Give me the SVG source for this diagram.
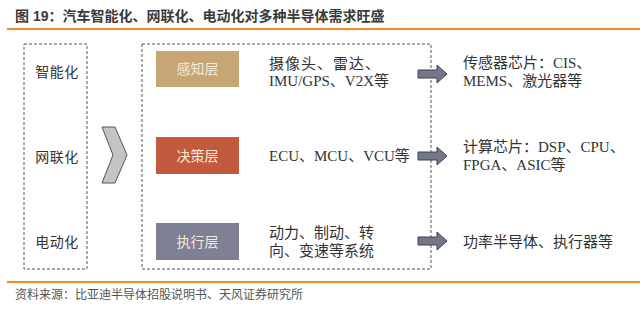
<svg xmlns="http://www.w3.org/2000/svg" width="640" height="312" viewBox="0 0 640 312">
<defs>
<style>
.title{font-family:"Liberation Sans","Noto Sans CJK SC",sans-serif;font-size:14px;font-weight:bold;fill:#3a3a3a}
.foot{font-family:"Liberation Sans","Noto Sans CJK SC",sans-serif;font-size:12px;fill:#555}
.rule{stroke:#f28a2e;stroke-width:2}
.dash{fill:none;stroke:#555;stroke-width:1;stroke-dasharray:3 2}
.lbl{font-family:"Liberation Serif","Noto Sans CJK SC",serif;font-size:14px;fill:#333;text-anchor:middle;letter-spacing:0.5px}
.txt{font-family:"Liberation Serif","Noto Sans CJK SC",serif;font-size:15px;fill:#333}
.btxt{font-family:"Liberation Serif","Noto Sans CJK SC",serif;font-size:14px;fill:#f3ead8;text-anchor:middle}
.arr{fill:#737789;stroke:#3f4250;stroke-width:1}
</style>
</defs>
<rect width="640" height="312" fill="#fff"/>
<text class="title" x="15" y="21">图 19：汽车智能化、网联化、电动化对多种半导体需求旺盛</text>
<line class="rule" x1="7" y1="29" x2="640" y2="29"/>

<g id="trends">
<rect class="dash" x="24" y="44" width="63" height="225"/>
<text class="lbl" x="57" y="77">智能化</text>
<text class="lbl" x="57" y="162">网联化</text>
<text class="lbl" x="57" y="247">电动化</text>
</g>

<g id="chevron">
<polygon points="102,127 115,127 127,155 115,183 102,183 113,155" fill="#c4c4c4" stroke="#555" stroke-width="1"/>
</g>

<g id="layers">
<rect class="dash" x="142" y="44" width="289" height="225"/>
</g>

<g id="sense">
<rect x="156" y="51" width="83" height="36" fill="#c6a675"/>
<text class="btxt" x="197.5" y="74">感知层</text>
<text class="txt" x="269" y="69" letter-spacing="1">摄像头、雷达、</text>
<text class="txt" x="269" y="86">IMU/GPS、V2X等</text>
</g>

<g id="decide">
<rect x="156" y="137" width="83" height="37" fill="#c35a3e"/>
<text class="btxt" x="197.5" y="161">决策层</text>
<text class="txt" x="269" y="161">ECU、MCU、VCU等</text>
</g>

<g id="execute">
<rect x="156" y="223" width="83" height="37" fill="#7e8096"/>
<text class="btxt" x="197.5" y="247">执行层</text>
<text class="txt" x="269" y="238">动力、制动、转</text>
<text class="txt" x="269" y="256">向、变速等系统</text>
</g>

<g id="connectors">
<polygon class="arr" points="418,70 437,70 437,65 447,74 437,83 437,78 418,78"/>
<polygon class="arr" points="418,152 437,152 437,147 447,156 437,165 437,160 418,160"/>
<polygon class="arr" points="418,237 437,237 437,232 447,241 437,250 437,245 418,245"/>
</g>

<g id="sensorchips">
<text class="txt" x="463" y="68">传感器芯片：CIS、</text>
<text class="txt" x="463" y="86">MEMS、激光器等</text>
</g>
<g id="computechips">
<text class="txt" x="463" y="152">计算芯片：DSP、CPU、</text>
<text class="txt" x="463" y="170">FPGA、ASIC等</text>
</g>
<g id="power">
<text class="txt" x="463" y="247">功率半导体、执行器等</text>
</g>

<line class="rule" x1="7" y1="282" x2="640" y2="282"/>
<text class="foot" x="15" y="299">资料来源：比亚迪半导体招股说明书、天风证券研究所</text>
</svg>
